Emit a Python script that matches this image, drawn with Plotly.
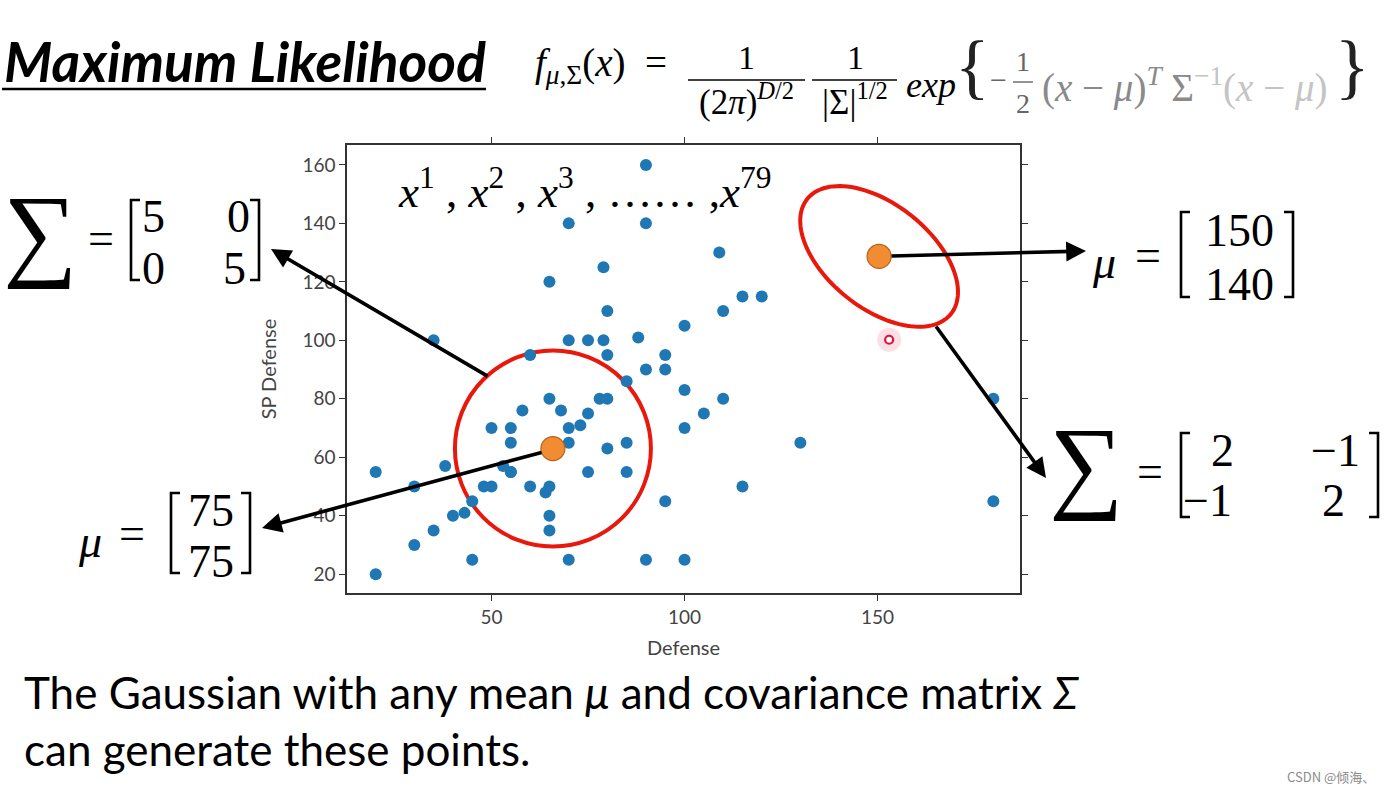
import numpy as np
import plotly.graph_objects as go

# ---------------- data ----------------
defense = [90, 70, 90, 79, 65, 80, 100, 35, 70, 75, 79, 88, 80, 95, 60, 90, 95, 85, 100, 100,
           65, 78, 80, 58, 68, 75, 50, 55, 70, 73, 55, 70, 80, 85, 20, 38, 30, 48, 50, 55,
           53, 60, 65, 64, 75, 85, 45, 40, 43, 35, 65, 65, 95, 30, 45, 70, 90, 100, 20, 55,
           109, 115, 120, 110, 110, 105, 130, 115, 180, 180]
sp_defense = [160, 140, 140, 125, 120, 110, 105, 100, 100, 100, 100, 101, 95, 95, 95, 90, 90, 86, 83, 70,
              80, 80, 80, 76, 76, 75, 70, 70, 70, 71, 65, 65, 63, 65, 55, 57, 50, 50, 50, 55,
              57, 50, 50, 48, 55, 55, 45, 40, 41, 35, 40, 35, 45, 30, 25, 25, 25, 25, 20, 55,
              130, 115, 115, 110, 80, 75, 65, 50, 80, 45]
mean_x = [65.9, 150.4]
mean_y = [63.0, 128.7]
cursor_x = [153.0]
cursor_y = [100.2]
x_ticks = [50, 100, 150]
y_ticks = [20, 40, 60, 80, 100, 120, 140, 160]

# ---------------- geometry ----------------
W, H = 1387, 793
L, R, T, B = 347, 1020, 145, 593
XR = [12.56, 186.9]
YR = [13.6, 166.8]
SX = (R - L) / (XR[1] - XR[0])   # px per data unit
SY = (B - T) / (YR[1] - YR[0])


def pp(px, py):
    return (px - L) / (R - L), (B - py) / (B - T)


fig = go.Figure()

fig.add_trace(go.Scatter(x=defense, y=sp_defense, mode="markers",
                         marker=dict(size=12, color="#1f77b4", line=dict(width=0)),
                         hoverinfo="x+y"))
fig.add_trace(go.Scatter(x=mean_x, y=mean_y, mode="markers",
                         marker=dict(size=24, color="#F28C33", line=dict(width=1.2, color="#B5621C"))))
fig.add_trace(go.Scatter(x=cursor_x, y=cursor_y, mode="markers",
                         marker=dict(size=24, color="rgba(240,80,110,0.18)", line=dict(width=0))))
fig.add_trace(go.Scatter(x=cursor_x, y=cursor_y, mode="markers",
                         marker=dict(size=8, color="rgba(255,255,255,1)", line=dict(width=2.2, color="#E0103C"))))

shapes = []
RED = "#E8180C"
# left circle (radius in px)
rpx = 98
cx, cy = mean_x[0], mean_y[0]
shapes.append(dict(type="circle", xref="x", yref="y",
                   x0=cx - rpx / SX, x1=cx + rpx / SX, y0=cy - rpx / SY, y1=cy + rpx / SY,
                   line=dict(color=RED, width=4), layer="below"))
# tilted ellipse around second mean
a_px, b_px, ang = 92, 52, np.deg2rad(38.6)
t = np.linspace(0, 2 * np.pi, 121)
dx = a_px * np.cos(t) * np.cos(ang) - b_px * np.sin(t) * np.sin(ang)
dy = a_px * np.cos(t) * np.sin(ang) + b_px * np.sin(t) * np.cos(ang)
ex = mean_x[1] + dx / SX
ey = mean_y[1] - dy / SY
path = "M " + " L ".join(f"{x:.3f},{y:.3f}" for x, y in zip(ex, ey)) + " Z"
shapes.append(dict(type="path", xref="x", yref="y", path=path,
                   line=dict(color=RED, width=4), layer="below"))


def pline(x0, y0, x1, y1, w=2.0, color="black"):
    a0, b0 = pp(x0, y0)
    a1, b1 = pp(x1, y1)
    shapes.append(dict(type="line", xref="paper", yref="paper", x0=a0, y0=b0, x1=a1, y1=b1,
                       line=dict(color=color, width=w)))


def bracket(x, top, bot, side, w=2.6, lip=9):
    d = lip if side == "L" else -lip
    pts = [pp(x + d, top), pp(x, top), pp(x, bot), pp(x + d, bot)]
    path = "M " + " L ".join(f"{a:.5f},{b:.5f}" for a, b in pts)
    shapes.append(dict(type="path", xref="paper", yref="paper", path=path,
                       line=dict(color="black", width=w)))


# title underline
pline(2, 89, 486, 89, w=2.5)
# fraction bars
pline(688, 80, 805, 80, w=1.6)
pline(812, 80, 897, 80, w=1.6)
pline(1013, 82, 1033, 82, w=1.4, color="#666")
# matrix brackets
bracket(131, 200, 280, "L")
bracket(259, 200, 280, "R")
bracket(1181, 212, 297, "L")
bracket(1293, 212, 297, "R")
bracket(171, 493, 573, "L")
bracket(250, 493, 573, "R")
bracket(1181, 433, 517, "L")
bracket(1378, 433, 517, "R")

annotations = []
SERIF = "Liberation Serif"
SANS = "Lato"


def txt(s, px, py, size, family=SERIF, xa="center", color="black", weight="normal", style="normal"):
    a, b = pp(px, py)
    annotations.append(dict(text=s, x=a, y=b, xref="paper", yref="paper", xanchor=xa, yanchor="middle",
                            showarrow=False,
                            font=dict(size=size, family=family, color=color, weight=weight, style=style)))


def arrow(tx, ty, hx, hy):
    a, b = pp(hx, hy)
    annotations.append(dict(text="", x=a, y=b, xref="paper", yref="paper",
                            ax=tx - hx, ay=ty - hy, axref="pixel", ayref="pixel",
                            showarrow=True, arrowhead=2, arrowsize=1.1, arrowwidth=3.6,
                            arrowcolor="black", standoff=0))


# heading
txt("Maximum Likelihood", 2, 61, 55, family=SANS, xa="left", weight="bold", style="italic")
# formula
txt("<i>f</i><sub><i>μ</i>,Σ</sub>(<i>x</i>)  =", 533, 66, 39, xa="left")
txt("1", 746, 58, 34)
txt("(2<i>π</i>)<sup><i>D</i>/2</sup>", 746, 99, 35)
txt("1", 855, 58, 34)
txt("|Σ|<sup>1/2</sup>", 855, 99, 35)
txt("<i>exp</i>", 904, 85, 36, xa="left")
txt("{", 972, 66, 72, color="#222")
txt("−", 998, 80, 30, color="#666")
txt("1", 1023, 62, 28, color="#666")
txt("2", 1023, 104, 28, color="#666")
txt("(<i>x</i> − <i>μ</i>)<sup><i>T</i></sup> Σ<span style='color:#c4c4c4'><sup>−1</sup>(<i>x</i> − <i>μ</i>)</span>",
    1040, 86, 39, xa="left", color="#8a8a8a")
txt("}", 1352, 66, 72, color="#222")
# x^1 ... x^79
txt("<i>x</i><sup>1</sup> , <i>x</i><sup>2</sup> , <i>x</i><sup>3</sup> , …… ,<i>x</i><sup>79</sup>",
    584, 188, 45)
# left Sigma matrix
txt("∑", 40, 232, 104)
txt("=", 101, 238, 46)
txt("5", 153, 216, 46)
txt("0", 238, 216, 46)
txt("0", 153, 268, 46)
txt("5", 234, 268, 46)
# right mu
txt("<i>μ</i>", 1104, 262, 46)
txt("=", 1148, 256, 46)
txt("150", 1239, 230, 46)
txt("140", 1239, 284, 46)
# lower-left mu
txt("<i>μ</i>", 90, 541, 46)
txt("=", 132, 533, 46)
txt("75", 211, 510, 46)
txt("75", 211, 561, 46)
# right Sigma matrix
txt("∑", 1086, 464, 104)
txt("=", 1150, 471, 46)
txt("2", 1222, 450, 46)
txt("−1", 1335, 450, 46)
txt("−1", 1207, 500, 46)
txt("2", 1333, 500, 46)
# bottom text
txt("The Gaussian with any mean <i>μ</i> and covariance matrix <i>Σ</i>", 22, 692, 44, family=SANS, xa="left")
txt("can generate these points.", 22, 749, 44, family=SANS, xa="left")
txt("CSDN @倾海、", 1331, 776, 13, family="Noto Sans CJK SC", color="#8a8a8a")

# arrows
arrow(489, 377, 271, 249)
arrow(543, 452, 262, 528)
arrow(890, 256, 1086, 251)
arrow(935, 325, 1046, 478)

axis_common = dict(showgrid=False, zeroline=False, showline=True, mirror="ticks",
                   linecolor="#333", linewidth=1.5, ticks="outside", ticklen=6, tickwidth=1.3,
                   tickcolor="#333", tickfont=dict(family=SANS, size=19, color="#444"))

fig.update_layout(
    width=W, height=H, autosize=False,
    margin=dict(l=L, r=W - R, t=T, b=H - B, pad=0),
    paper_bgcolor="white", plot_bgcolor="white",
    showlegend=False,
    xaxis=dict(range=XR, tickvals=x_ticks, **axis_common,
               title=dict(text="Defense", font=dict(family=SANS, size=20, color="#444"), standoff=14)),
    yaxis=dict(range=YR, tickvals=y_ticks, **axis_common,
               title=dict(text="SP Defense", font=dict(family=SANS, size=20, color="#444"), standoff=20)),
    shapes=shapes,
    annotations=annotations,
)

fig.write_html("out.html")
